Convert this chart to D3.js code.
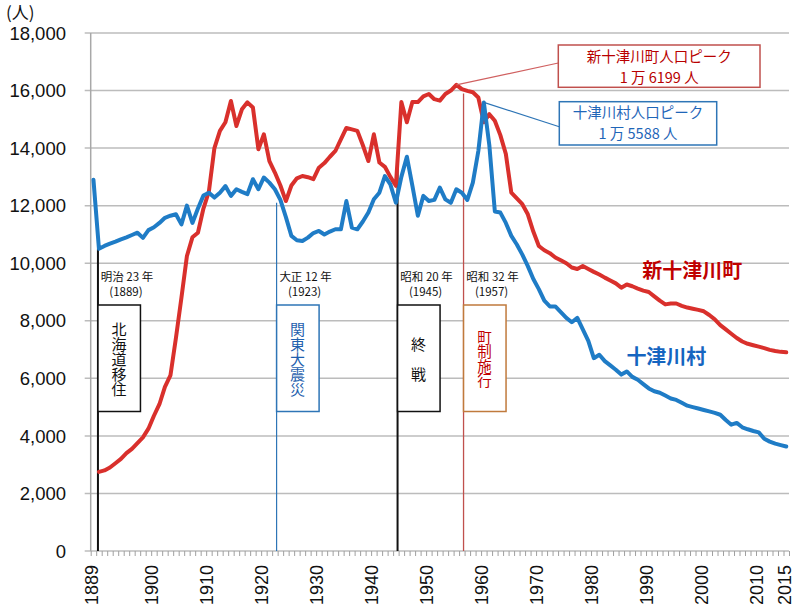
<!DOCTYPE html>
<html>
<head>
  <meta charset="utf-8">
  <title>新十津川町・十津川村 人口推移</title>
  <script src="https://d3js.org/d3.v7.min.js"></script>
  <style>
    body { margin: 0; background: #fff; }
    .jp { font-family: "Noto Sans CJK JP", "Noto Sans", sans-serif; }
    .num { font-family: "Liberation Sans", Arial, sans-serif; }
    .vert { writing-mode: vertical-rl; }
  </style>
</head>
<body>
  <svg id="chart" width="800" height="616"></svg>

  <script>
    // years 1889..2015
    const years = d3.range(1889, 2016);

    // 新十津川町 (red), starts 1890
    const shinValues = [
      null, 2750, 2800, 2900, 3050, 3200, 3400, 3550, 3750, 3950, // 1889-1898
      4250, 4700, 5100, 5700, 6100, 7400, 8800, 10250, 10900, 11060, // 1899-1908
      11900, 12500, 14000, 14600, 14900, 15640, 14770, 15350, 15590, 15410, // 1909-1918
      13960, 14480, 13550, 13150, 12700, 12160, 12700, 12950, 13030, 12990, // 1919-1928
      12920, 13320, 13480, 13700, 13900, 14300, 14700, 14650, 14600, 14100, // 1929-1938
      13550, 14480, 13500, 13350, 13000, 12690, 15600, 14900, 15600, 15600, // 1939-1948
      15800, 15880, 15700, 15650, 15880, 16000, 16199, 16050, 15990, 15940, // 1949-1958
      15760, 14900, 15180, 14950, 14450, 13800, 12450, 12250, 12050, 11700, // 1959-1968
      11100, 10600, 10450, 10350, 10200, 10100, 10000, 9850, 9800, 9900,    // 1969-1978
      9800, 9700, 9610, 9500, 9400, 9300, 9150, 9260, 9200, 9120,           // 1979-1988
      9050, 9000, 8850, 8700, 8570, 8600, 8600, 8520, 8460, 8420,           // 1989-1998
      8380, 8330, 8200, 8050, 7850, 7700, 7550, 7400, 7280, 7200,           // 1999-2008
      7150, 7100, 7050, 6990, 6950, 6920, 6905                              // 2009-2015
    ];

    // 十津川村 (blue)
    const totsuValues = [
      12900, 10500, 10600, 10680, 10750, 10830, 10900, 10980, 11060, 10880, // 1889-1898
      11150, 11250, 11400, 11580, 11650, 11700, 11350, 12000, 11400, 11900, // 1899-1908
      12350, 12450, 12280, 12450, 12680, 12340, 12570, 12480, 12400, 12920, // 1909-1918
      12570, 12980, 12800, 12570, 12200, 11600, 10950, 10800, 10770, 10890, // 1919-1928
      11050, 11120, 11000, 11100, 11180, 11180, 12160, 11240, 11180, 11450, // 1929-1938
      11760, 12220, 12450, 13030, 12740, 12100, 13000, 13700, 12700, 11650, // 1939-1948
      12340, 12160, 12200, 12630, 12220, 12100, 12570, 12450, 12200, 12800, // 1949-1958
      13900, 15588, 14100, 11800, 11760, 11400, 10950, 10650, 10300, 9900,  // 1959-1968
      9450, 9100, 8700, 8500, 8500, 8300, 8100, 7950, 8100, 7700,           // 1969-1978
      7300, 6700, 6820, 6600, 6450, 6300, 6130, 6240, 6050, 5950,           // 1979-1988
      5800, 5650, 5550, 5500, 5400, 5300, 5250, 5150, 5050, 5000,           // 1989-1998
      4950, 4900, 4850, 4800, 4735, 4550, 4390, 4450, 4300, 4230,           // 1999-2008
      4170, 4120, 3900, 3800, 3730, 3680, 3632                              // 2009-2015
    ];

    const yTicks = d3.range(0, 18001, 2000);
    const xLabelYears = [1889, 1900, 1910, 1920, 1930, 1940, 1950, 1960, 1970, 1980, 1990, 2000, 2010, 2015];

    // historical events
    const eventYears = [1889, 1923, 1945, 1957];
    const eventEras = ["明治 23 年", "大正 12 年", "昭和 20 年", "昭和 32 年"];
    const eventNames = ["北海道移住", "関東大震災", "終戦", "町制施行"];
    const eventTops = [10500, 12100, 13800, 15900];

    // peaks
    const peakYears = [1955, 1960];
    const peakValues = [16199, 15588];
    const peakLines = [["新十津川町人口ピーク", "1 万 6199 人"], ["十津川村人口ピーク", "1 万 5588 人"]];

    const seriesNames = ["新十津川町", "十津川村"];

    const svg = d3.select("#chart");
    const plotLeft = 90.7, plotRight = 789, plotTop = 33, plotBottom = 551;

    const x = d3.scaleLinear().domain([1888.5, 2015.5]).range([plotLeft, plotRight]);
    const y = d3.scaleLinear().domain([0, 18000]).range([plotBottom, plotTop]);

    // gridlines
    svg.append("g")
      .selectAll("line")
      .data(yTicks)
      .join("line")
      .attr("x1", plotLeft - 6).attr("x2", plotRight)
      .attr("y1", d => y(d)).attr("y2", d => y(d))
      .attr("stroke", "#bcbcbc").attr("stroke-width", 1.5);

    // y axis line
    svg.append("line")
      .attr("x1", plotLeft).attr("x2", plotLeft)
      .attr("y1", plotTop).attr("y2", plotBottom)
      .attr("stroke", "#a8a8a8").attr("stroke-width", 1.5);

    // x ticks, one per year boundary
    const xAxis = d3.axisBottom(x)
      .tickValues(d3.range(1888.5, 2016, 1))
      .tickFormat("")
      .tickSize(5)
      .tickSizeOuter(0);
    const gx = svg.append("g").attr("transform", `translate(0,${plotBottom})`).call(xAxis);
    gx.select(".domain").remove();
    gx.selectAll(".tick line").attr("stroke", "#a0a0a0").attr("stroke-width", 1);

    // y tick labels
    svg.append("g")
      .selectAll("text")
      .data(yTicks)
      .join("text")
      .attr("class", "num")
      .attr("x", 66)
      .attr("y", d => y(d))
      .attr("dy", "0.36em")
      .attr("text-anchor", "end")
      .attr("font-size", 18.5)
      .attr("fill", "#111")
      .text(d => d3.format(",")(d));

    // x tick labels (rotated)
    svg.append("g")
      .selectAll("text")
      .data(xLabelYears)
      .join("text")
      .attr("class", "num")
      .attr("transform", d => `translate(${x(d) - 2},565) rotate(-90)`)
      .attr("dy", "0.36em")
      .attr("text-anchor", "end")
      .attr("font-size", 18)
      .attr("fill", "#111")
      .text(d => d);

    // unit
    svg.append("text")
      .attr("class", "jp")
      .attr("x", 6).attr("y", 13)
      .attr("dy", "0.36em")
      .attr("font-size", 17)
      .attr("fill", "#111")
      .text("(人)");

    // event markers
    const eventColors = ["#111", "#2e75b6", "#111", "#c0504d"];
    const boxColors = ["#111", "#2e75b6", "#111", "#c07a3c"];
    const textColors = ["#111", "#1f5fae", "#111", "#c00000"];
    const lineWidths = [2, 1.2, 2, 1.3];

    eventYears.forEach((yr, i) => {
      const lx = i === 0 ? x(yr) + 4.5 : x(yr) - 3.8;
      const g = svg.append("g");

      g.append("line")
        .attr("x1", lx).attr("x2", lx)
        .attr("y1", y(eventTops[i])).attr("y2", plotBottom)
        .attr("stroke", eventColors[i]).attr("stroke-width", lineWidths[i]);

      g.append("text")
        .attr("class", "jp")
        .attr("x", lx + 29).attr("y", 277)
        .attr("dy", "0.36em")
        .attr("text-anchor", "middle")
        .attr("font-size", 11.5)
        .attr("fill", "#111")
        .text(eventEras[i]);

      g.append("text")
        .attr("class", "jp")
        .attr("x", lx + 28).attr("y", 292)
        .attr("dy", "0.36em")
        .attr("text-anchor", "middle")
        .attr("font-size", 11.5)
        .attr("fill", "#111")
        .text(`(${yr})`);

      g.append("rect")
        .attr("x", lx).attr("y", 305)
        .attr("width", 42.5).attr("height", 106.5)
        .attr("fill", "#fff")
        .attr("stroke", boxColors[i]).attr("stroke-width", 1.5);

      // vertical caption, one text element in vertical writing mode
      const n = Array.from(eventNames[i]).length;
      const spacing = n === 2 ? 15 : 0;
      const fs = n === 4 ? 14.5 : 15;
      g.append("text")
        .attr("class", "jp vert")
        .attr("x", lx + 21)
        .attr("y", 359 + spacing / 2)
        .attr("text-anchor", "middle")
        .attr("font-size", fs)
        .attr("letter-spacing", spacing)
        .attr("fill", textColors[i])
        .text(eventNames[i]);
    });

    // data lines
    const line = d3.line()
      .defined(d => d[1] != null)
      .x(d => x(d[0]))
      .y(d => y(d[1]));

    const series = [
      { values: shinValues, color: "#d9302c" },
      { values: totsuValues, color: "#1f7cc6" }
    ];

    svg.append("g")
      .selectAll("path")
      .data(series)
      .join("path")
      .attr("d", s => line(years.map((yr, i) => [yr, s.values[i]])))
      .attr("fill", "none")
      .attr("stroke", s => s.color)
      .attr("stroke-width", 4)
      .attr("stroke-linejoin", "round")
      .attr("stroke-linecap", "round");

    // peak callouts
    const callBoxes = [
      { bx: 558.3, by: 45, bw: 201.7, bh: 42.3, ay: 63, stroke: "#c0504d", ink: "#b80000", lead: "#d06060" },
      { bx: 559.3, by: 101.7, bw: 157.4, bh: 43.3, ay: 126.7, stroke: "#2e75b6", ink: "#1f66b8", lead: "#2e75b6" }
    ];
    peakYears.forEach((yr, i) => {
      const b = callBoxes[i];
      svg.append("line")
        .attr("x1", x(yr)).attr("y1", y(peakValues[i]))
        .attr("x2", b.bx).attr("y2", b.ay)
        .attr("stroke", b.lead).attr("stroke-width", 1.2);
      svg.append("rect")
        .attr("x", b.bx).attr("y", b.by)
        .attr("width", b.bw).attr("height", b.bh)
        .attr("fill", "#fff")
        .attr("stroke", b.stroke).attr("stroke-width", 1.5);
      // two lines in one text element
      const t = svg.append("text")
        .attr("class", "jp")
        .attr("y", b.by + 11.5)
        .attr("text-anchor", "middle")
        .attr("font-size", 14.5)
        .attr("fill", b.ink);
      t.selectAll("tspan")
        .data(peakLines[i])
        .join("tspan")
        .attr("x", b.bx + b.bw / 2)
        .attr("dy", (s, k) => k === 0 ? "0.36em" : 21)
        .text(s => s);
    });

    // series labels
    const labelPos = [[1997.9, 9720], [1993.2, 6765]];
    const labelColors = ["#c00000", "#1565c0"];
    seriesNames.forEach((n, i) => {
      svg.append("text")
        .attr("class", "jp")
        .attr("x", x(labelPos[i][0]))
        .attr("y", y(labelPos[i][1]))
        .attr("dy", "0.36em")
        .attr("text-anchor", "middle")
        .attr("font-size", 20)
        .attr("font-weight", "bold")
        .attr("fill", labelColors[i])
        .text(n);
    });
  </script>
</body>
</html>
